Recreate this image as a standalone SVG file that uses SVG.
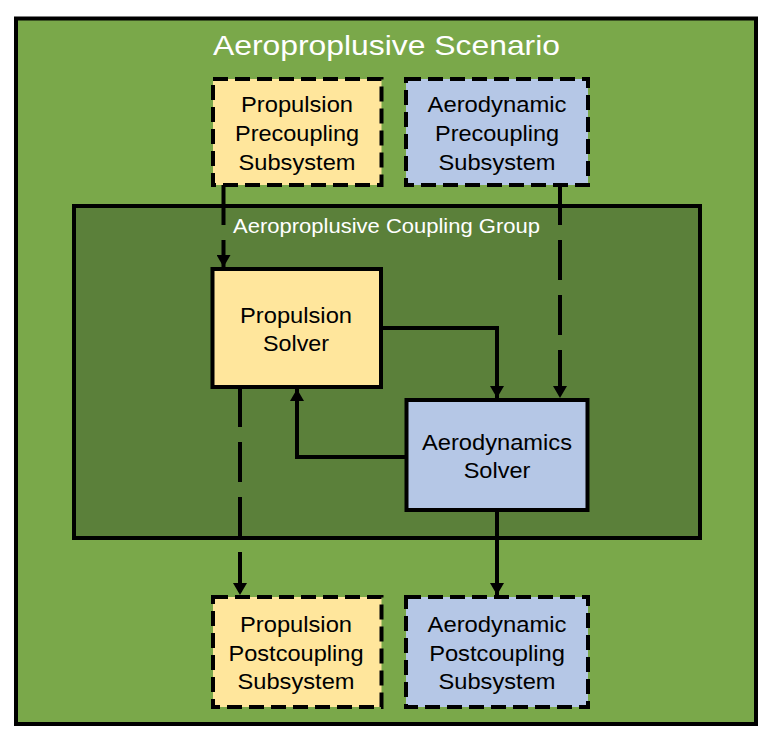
<svg xmlns="http://www.w3.org/2000/svg" width="780" height="742" viewBox="0 0 780 742">
<defs>
<style>
text{font-family:"Liberation Sans",Arial,sans-serif;text-anchor:middle;fill:#000}
.title{font-size:28px;fill:#fff}
.glabel{font-size:19.5px;fill:#fff}
.lbl{font-size:22px}
.yel{fill:#FFE69C}
.blu{fill:#B5C7E6}
.box{stroke:#000;stroke-width:4}
.dash{stroke-dasharray:15 7}
.con{fill:none;stroke:#000;stroke-width:4}
.cdash{stroke-dasharray:40 15}
</style>
<marker id="arr" markerUnits="userSpaceOnUse" markerWidth="14" markerHeight="14" refX="12" refY="7" orient="auto">
<path d="M0,0 L12,7 L0,14 Z" fill="#000"/>
</marker>
</defs>
<rect width="780" height="742" fill="#fff"/>
<g id="scenario">
<rect x="16" y="18.5" width="740" height="705.5" fill="#7AA84A" stroke="#000" stroke-width="4"/>
<text class="title" x="386.5" y="54.5" textLength="347" lengthAdjust="spacingAndGlyphs">Aeroproplusive Scenario</text>
</g>
<g id="coupling-group">
<rect x="74" y="206" width="626" height="332" fill="#5B803A" stroke="#000" stroke-width="4"/>
<text class="glabel" x="386.5" y="233" textLength="307" lengthAdjust="spacingAndGlyphs">Aeroproplusive Coupling Group</text>
</g>
<g id="propulsion-precoupling">
<rect class="box dash yel" x="213" y="79" width="168.5" height="106"/>
<text class="lbl" x="297" y="112" textLength="112" lengthAdjust="spacingAndGlyphs">Propulsion</text>
<text class="lbl" x="297" y="141" textLength="124" lengthAdjust="spacingAndGlyphs">Precoupling</text>
<text class="lbl" x="297" y="169.5" textLength="117" lengthAdjust="spacingAndGlyphs">Subsystem</text>
</g>
<g id="aerodynamic-precoupling">
<rect class="box dash blu" x="406" y="79" width="182" height="106"/>
<text class="lbl" x="497" y="112" textLength="139" lengthAdjust="spacingAndGlyphs">Aerodynamic</text>
<text class="lbl" x="497" y="141" textLength="124" lengthAdjust="spacingAndGlyphs">Precoupling</text>
<text class="lbl" x="497" y="169.5" textLength="117" lengthAdjust="spacingAndGlyphs">Subsystem</text>
</g>
<g id="propulsion-solver">
<rect class="box yel" x="212.5" y="269" width="168.5" height="118"/>
<text class="lbl" x="296" y="322.7" textLength="112" lengthAdjust="spacingAndGlyphs">Propulsion</text>
<text class="lbl" x="296" y="351" textLength="66" lengthAdjust="spacingAndGlyphs">Solver</text>
</g>
<g id="aerodynamics-solver">
<rect class="box blu" x="406.5" y="400" width="181" height="110"/>
<text class="lbl" x="497" y="450" textLength="150" lengthAdjust="spacingAndGlyphs">Aerodynamics</text>
<text class="lbl" x="497" y="478.3" textLength="66.7" lengthAdjust="spacingAndGlyphs">Solver</text>
</g>
<g id="propulsion-postcoupling">
<rect class="box dash yel" x="213" y="597" width="168.5" height="110"/>
<text class="lbl" x="296" y="632" textLength="112" lengthAdjust="spacingAndGlyphs">Propulsion</text>
<text class="lbl" x="296" y="660.5" textLength="135" lengthAdjust="spacingAndGlyphs">Postcoupling</text>
<text class="lbl" x="296" y="689" textLength="117" lengthAdjust="spacingAndGlyphs">Subsystem</text>
</g>
<g id="aerodynamic-postcoupling">
<rect class="box dash blu" x="406" y="597" width="182" height="110"/>
<text class="lbl" x="497" y="632" textLength="139" lengthAdjust="spacingAndGlyphs">Aerodynamic</text>
<text class="lbl" x="497" y="660.5" textLength="135.7" lengthAdjust="spacingAndGlyphs">Postcoupling</text>
<text class="lbl" x="497" y="689" textLength="117" lengthAdjust="spacingAndGlyphs">Subsystem</text>
</g>
<g id="connectors">
<path class="con cdash" d="M223.5,185 L223.5,267" marker-end="url(#arr)"/>
<path class="con cdash" d="M560,185 L560,398" marker-end="url(#arr)"/>
<path class="con" d="M381,328 L497,328 L497,398" marker-end="url(#arr)"/>
<path class="con" d="M406.5,457 L297,457 L297,389" marker-end="url(#arr)"/>
<path class="con cdash" d="M240,387 L240,595" marker-end="url(#arr)"/>
<path class="con" d="M497,510 L497,595" marker-end="url(#arr)"/>
</g>
</svg>
